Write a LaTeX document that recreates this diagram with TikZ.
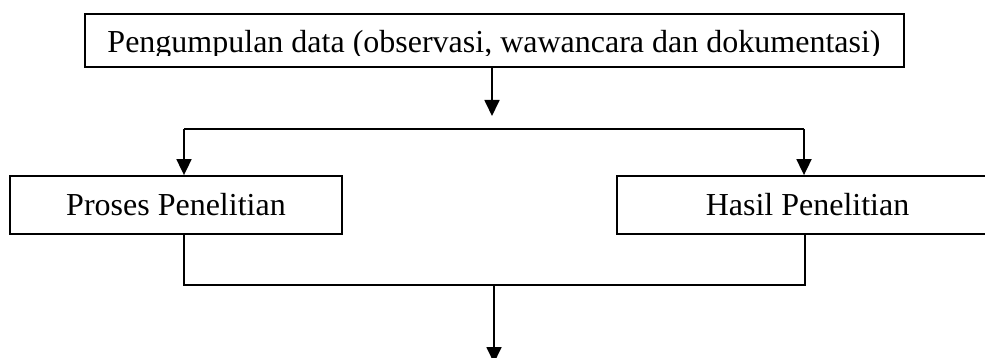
\documentclass[tikz,border=0pt]{standalone}
\usepackage{fontspec}
\setmainfont{Liberation Serif}
\usetikzlibrary{arrows.meta}
\tikzset{
  box/.style={draw, line width=1.8pt, rectangle, inner sep=0pt},
  label text/.style={font=\fontsize{32}{38}\selectfont, inner sep=0pt},
  link/.style={line width=1.8pt},
  flow/.style={line width=1.8pt, -{Triangle[length=16pt,width=15pt]}}
}
\begin{document}
\begin{tikzpicture}[x=1pt, y=-1pt]
\useasboundingbox (0,0) rectangle (985,358);
\clip (0,0) rectangle (985,358);

% top box; its text is trimmed at the lower edge
\node[box, minimum width=819pt, minimum height=53pt] (top) at (494.5,40.5) {};
\begin{scope}
  \clip (85,14) rectangle (904,56);
  \node[label text, anchor=base] (toptext) at (494,52.7)
    {Pengumpulan data (observasi, wawancara dan dokumentasi)};
\end{scope}

% the two result boxes
\node[box, label text, minimum width=332pt, minimum height=58pt] (proses) at (176,205) {Proses Penelitian};
\node[box, label text, minimum width=381pt, minimum height=58pt] (hasil) at (807.5,205) {Hasil Penelitian};

% top arrow and the branch
\coordinate (topend) at (492,116);
\draw[flow] (top.south -| topend) -- (topend);

\coordinate (bl) at (184,129);
\coordinate (br) at (804,129);
\draw[link] (bl) -- (br);
\draw[flow] (bl) -- (bl |- proses.north);
\draw[flow] (br) -- (br |- hasil.north);

% merge line and the final arrow
\coordinate (ml) at (184,285);
\coordinate (mr) at (805,285);
\coordinate (mid) at (494,285);
\coordinate (outend) at (494,363);
\draw[link] (ml |- proses.south) -- (ml) -- (mr) -- (mr |- hasil.south);
\draw[flow] (mid) -- (outend);
\end{tikzpicture}
\end{document}
